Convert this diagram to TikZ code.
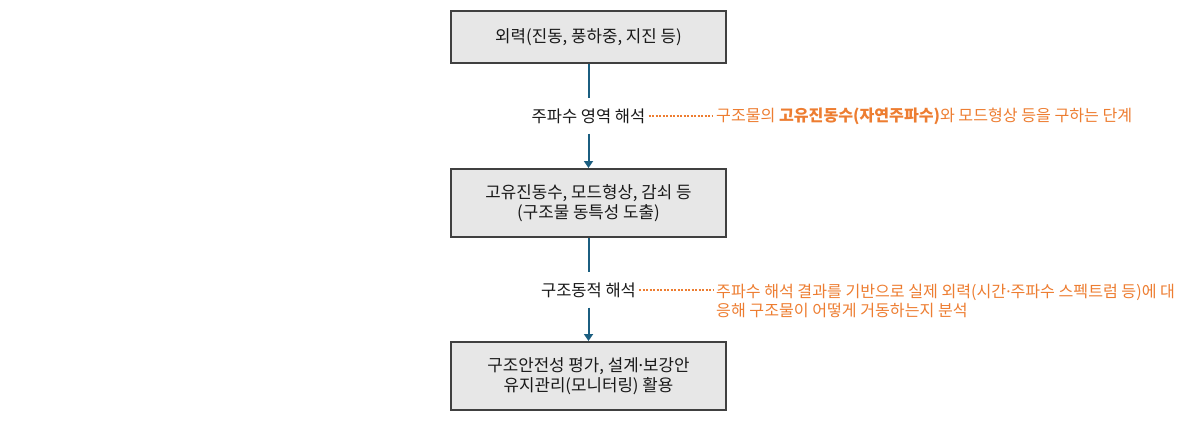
\documentclass[tikz,border=0pt]{standalone}
\usepackage{fontspec}
\setmainfont{Noto Sans CJK KR}
\newfontfamily\latinf{Noto Sans}
\newcommand{\mdot}{{\latinf ·}}
\usetikzlibrary{arrows.meta}
\definecolor{boxfill}{HTML}{E7E7E7}
\definecolor{boxline}{HTML}{404040}
\definecolor{flowc}{HTML}{1B5E80}
\definecolor{notec}{HTML}{ED7D31}
\tikzset{
  stagebox/.style={draw=boxline, line width=2pt, fill=boxfill, minimum width=275pt,
    inner sep=0pt, align=center, font=\fontsize{16.8}{20.5}\selectfont, text=black!90},
  steplabel/.style={inner xsep=3pt, inner ysep=0pt, minimum height=35pt,
    font=\fontsize{16.5}{19}\selectfont, text=black!90},
  notetext/.style={inner sep=3pt, align=left, text=notec, font=\fontsize{16.1}{19}\selectfont},
  flow/.style={draw=flowc, line width=2pt},
  flowarrow/.style={flow, -{Triangle[length=7pt,width=9pt]}},
  notelink/.style={draw=notec, line width=2pt, dash pattern=on 2pt off 1.5pt}
}
\begin{document}
\begin{tikzpicture}[x=1pt,y=-1pt]
\useasboundingbox (0,0) rectangle (1196,425);
\node[stagebox, minimum height=52pt] (b1) at (588.5,37) {외력(진동, 풍하중, 지진 등)};
\node[stagebox, minimum height=68pt] (b2) at (588.5,203) {고유진동수, 모드형상, 감쇠 등\\(구조물 동특성 도출)};
\node[stagebox, minimum height=68pt] (b3) at (588.5,376) {구조안전성 평가, 설계\mdot 보강안\\유지관리(모니터링) 활용};
\node[steplabel] (l1) at (588.5,116) {주파수 영역 해석};
\node[steplabel] (l2) at (588.5,290) {구조동적 해석};
\node[notetext, anchor=west] (n1) at (713,116) {구조물의 \textbf{고유진동수(자연주파수)}와 모드형상 등을 구하는 단계};
\node[notetext, anchor=north west] (n2) at (713,281) {주파수 해석 결과를 기반으로 실제 외력(시간\mdot 주파수 스펙트럼 등)에 대\\응해 구조물이 어떻게 거동하는지 분석};
\draw[flow] (b1.south) -- (l1.north);
\draw[flowarrow] (l1.south) -- (b2.north);
\draw[flow] (b2.south) -- (l2.north);
\draw[flowarrow] (l2.south) -- (b3.north);
\draw[notelink] (l1.east) -- (n1.west);
\draw[notelink] (l2.east) -- (n2.west |- l2.east);
\end{tikzpicture}
\end{document}
